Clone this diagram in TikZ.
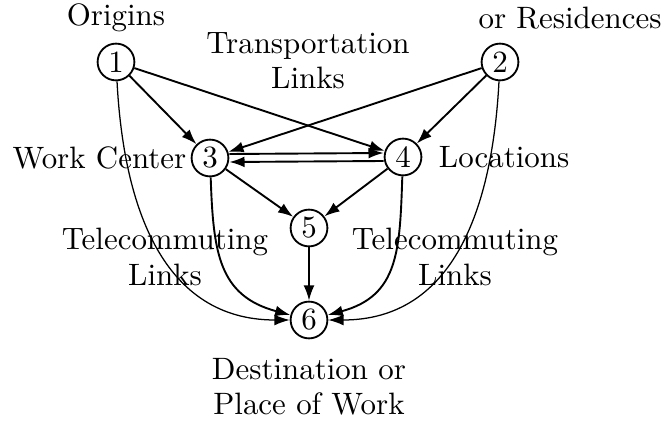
\documentclass[tikz,border=0pt]{standalone}
\usepackage{fontspec}
\setmainfont{lmroman10-regular.otf}
\usetikzlibrary{arrows.meta}
\tikzset{
  vertex/.style={draw, circle, line width=1.3pt, minimum size=0.92cm, inner sep=0pt},
  link/.style={line width=1.35pt, -{Latex[length=3.8mm,width=2.7mm]}},
  tele/.style={line width=0.9pt, -{Latex[length=3.8mm,width=2.7mm]}},
  lbl/.style={align=center}
}
\begin{document}
\begin{tikzpicture}[font=\fontsize{22}{25}\selectfont]
	    \useasboundingbox (0,0) rectangle (16.525,10.625);
	    \node[vertex] (v1) at (2.9, 9.075) {1};
	    \node[vertex] (v2) at (12.5, 9.075) {2};
	    \node[vertex] (v3) at (5.25, 6.675) {3};
	    \node[vertex] (v4) at (10.075, 6.7) {4};
	    \node[vertex] (v5) at (7.725, 4.925) {5};
	    \node[vertex] (v6) at (7.725, 2.625) {6};
	    \node[lbl] (origins) at (2.9, 10.175) {Origins};
	    \node[lbl] (residences) at (14.25, 10.175) {or Residences};
	    \node[lbl] (transport) at (7.7, 9.1) {Transportation\\Links};
	    \node[lbl, anchor=east] (workcenter) at (4.78, 6.675) {Work Center};
	    \node[lbl, anchor=west] (locations) at (10.85, 6.7) {Locations};
	    \node[lbl] (teleleft) at (4.125, 4.2) {Telecommuting\\Links};
	    \node[lbl] (teleright) at (11.375, 4.2) {Telecommuting\\Links};
	    \node[lbl] (destination) at (7.725, 0.95) {Destination or\\Place of Work};
	    \draw[link] (v1) -- (v3);
	    \draw[link] (v1) -- (v4);
	    \draw[link] (v2) -- (v3);
	    \draw[link] (v2) -- (v4);
	    \draw[link] ([yshift=0.1cm]v3.east) -- ([yshift=0.1cm]v4.west);
	    \draw[link] ([yshift=-0.1cm]v4.west) -- ([yshift=-0.1cm]v3.east);
	    \draw[link] (v3) -- (v5);
	    \draw[link] (v4) -- (v5);
	    \draw[link] (v5) -- (v6);
	    \draw[tele] (v1) to[out=-87, in=180, looseness=1.1] (v6);
	    \draw[link] (v3) to[out=-88, in=165, looseness=1.2] (v6);
	    \draw[link] (v4) to[out=-92, in=15, looseness=1.2] (v6);
	    \draw[tele] (v2) to[out=-93, in=0, looseness=1.1] (v6);
\end{tikzpicture}
\end{document}
